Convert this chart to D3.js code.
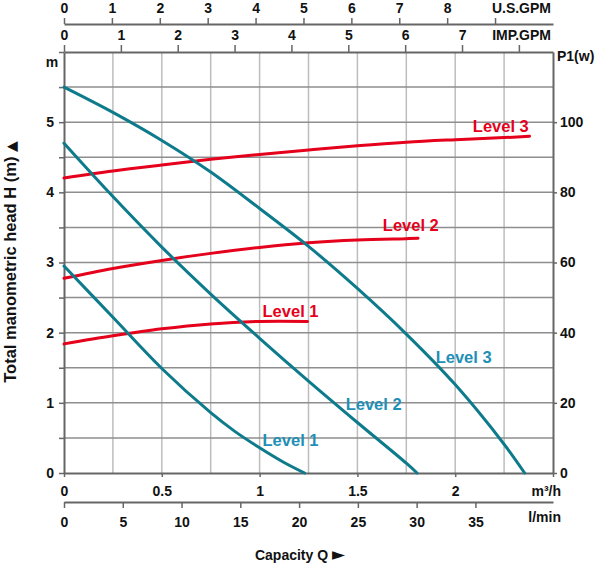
<!DOCTYPE html>
<html><head><meta charset="utf-8">
<script src="https://cdn.jsdelivr.net/npm/d3@7/dist/d3.min.js"></script>
<style>
body{margin:0;background:#fff}
svg{display:block}
text{font-family:"Liberation Sans",Arial,sans-serif;font-weight:bold}
</style>
</head><body>
<svg id="c" width="600" height="564"></svg>
<script>
// ---------- data ----------
const headQ1 = [0, 0.25, 0.5, 0.75, 0.875, 1.0, 1.125, 1.23];
const head1  = [2.95, 2.22, 1.49, 0.86, 0.59, 0.36, 0.15, 0];
const headQ2 = [0, 0.25, 0.5, 0.75, 1.0, 1.25, 1.5, 1.75, 1.805];
const head2  = [4.7, 3.94, 3.22, 2.55, 1.92, 1.31, 0.72, 0.14, 0];
const headQ3 = [0, 0.25, 0.5, 0.75, 1.0, 1.25, 1.5, 1.75, 2.0, 2.25, 2.355];
const head3  = [5.5, 5.14, 4.74, 4.29, 3.77, 3.23, 2.63, 1.98, 1.26, 0.41, 0];

const powerQ1 = [0, 0.25, 0.5, 0.75, 1.0, 1.245];
const power1  = [36.8, 39.1, 41.1, 42.5, 43.2, 43.2];
const powerQ2 = [0, 0.25, 0.5, 0.75, 1.0, 1.25, 1.5, 1.75, 1.81];
const power2  = [55.5, 58.3, 60.6, 62.6, 64.3, 65.6, 66.4, 66.8, 66.9];
const powerQ3 = [0, 0.25, 0.5, 0.75, 1.0, 1.25, 1.5, 1.75, 2.0, 2.25, 2.38];
const power3  = [84.1, 86.1, 87.8, 89.4, 90.8, 92.1, 93.3, 94.3, 95.0, 95.6, 96.0];

const levelNames = ["Level 1", "Level 2", "Level 3"];

const m3hTicks    = [0, 0.5, 1, 1.5, 2];
const lminTicks   = [0, 5, 10, 15, 20, 25, 30, 35];
const usGpmTicks  = [0, 1, 2, 3, 4, 5, 6, 7, 8];
const impGpmTicks = [0, 1, 2, 3, 4, 5, 6, 7];
const headTicks   = [0, 1, 2, 3, 4, 5];
const powerTicks  = [0, 20, 40, 60, 80, 100];

// ---------- layout ----------
const L = 64, R = 553, T = 52, B = 473;
const RED = "#e5001c", TEAL = "#0d7b8b", TEAL_TXT = "#1e8fb6";
const svg = d3.select("#c");

const x = d3.scaleLinear().domain([0, 2.5]).range([L, R]);
const xL = d3.scaleLinear().domain([0, 41.6]).range([L, R]);
const xUS = d3.scaleLinear().domain([0, 10.21]).range([L, R]);
const xIMP = d3.scaleLinear().domain([0, 8.6]).range([L, R]);
const y = d3.scaleLinear().domain([0, 6]).range([B, T]);
const yW = d3.scaleLinear().domain([0, 120]).range([B, T]);

// grid
const g = svg.append("g");
g.selectAll("line.v").data(d3.range(0.25, 2.5, 0.25)).join("line")
  .attr("x1", d => x(d)).attr("x2", d => x(d)).attr("y1", T).attr("y2", B)
  .attr("stroke", "#bdbdbd").attr("stroke-width", 1.5);
g.selectAll("line.h").data(d3.range(0.5, 6, 0.5)).join("line")
  .attr("x1", L).attr("x2", R).attr("y1", d => y(d)).attr("y2", d => y(d))
  .attr("stroke", "#8e8e8e").attr("stroke-width", 1.5);

function styleAxis(sel) {
  sel.select(".domain").attr("stroke", "#666").attr("stroke-width", 2);
  sel.selectAll(".tick line").attr("stroke", "#666").attr("stroke-width", 1.5);
  sel.selectAll("text").attr("font-size", 14).attr("fill", "#111")
    .attr("font-family", '"Liberation Sans",Arial,sans-serif').attr("font-weight", "bold");
}

// left axis (head)
svg.append("g").attr("transform", `translate(${L},0)`)
  .call(d3.axisLeft(y).tickValues(d3.range(0, 6.01, 0.5)).tickSize(5).tickSizeOuter(0).tickPadding(5)
    .tickFormat(d => headTicks.includes(d) ? d : ""))
  .call(styleAxis);

// right axis (power)
svg.append("g").attr("transform", `translate(${R},0)`)
  .call(d3.axisRight(yW).tickValues(powerTicks).tickSize(4).tickSizeOuter(0).tickPadding(3))
  .call(styleAxis);

// bottom m3/h axis
svg.append("g").attr("transform", `translate(0,${B})`)
  .call(d3.axisBottom(x).tickValues([...m3hTicks, 2.5]).tickSize(4).tickSizeOuter(0).tickPadding(9)
    .tickFormat(d => m3hTicks.includes(d) ? d : ""))
  .call(styleAxis);

// l/min axis
svg.append("g").attr("transform", `translate(0,502)`)
  .call(d3.axisBottom(xL).tickValues(lminTicks).tickSize(6).tickSizeOuter(0).tickPadding(9))
  .call(styleAxis);

// US GPM axis
svg.append("g").attr("transform", `translate(0,24)`)
  .call(d3.axisTop(xUS).tickValues([...usGpmTicks, 9]).tickSize(6).tickSizeOuter(0).tickPadding(5)
    .tickFormat(d => usGpmTicks.includes(d) ? d : ""))
  .call(styleAxis);

// IMP GPM axis (plot top)
svg.append("g").attr("transform", `translate(0,${T})`)
  .call(d3.axisTop(xIMP).tickValues([...impGpmTicks, 8]).tickSize(7).tickSizeOuter(0).tickPadding(5)
    .tickFormat(d => impGpmTicks.includes(d) ? d : ""))
  .call(styleAxis);

// unit labels
function txt(t, xx, yy, anchor, size, fill) {
  return svg.append("text").attr("x", xx).attr("y", yy).attr("text-anchor", anchor || "start")
    .attr("font-size", size || 14).attr("fill", fill || "#111").text(t);
}
txt("U.S.GPM", 551, 13, "end");
txt("IMP.GPM", 551, 40, "end");
txt("P1(w)", 557, 61, "start");
txt("m", 52, 67, "middle");
txt("m³/h", 561, 496, "end");
txt("l/min", 561, 522, "end");
const cap = svg.append("text").attr("x", 300).attr("y", 560).attr("text-anchor", "middle")
  .attr("font-size", 14).attr("fill", "#111");
cap.append("tspan").text("Capacity Q ");
cap.append("tspan").attr("font-family", '"DejaVu Sans",sans-serif').attr("font-size", 17).text("►");
const yt = svg.append("text").attr("transform", "translate(16,262) rotate(-90)").attr("text-anchor", "middle")
  .attr("font-size", 16.5).attr("fill", "#111");
yt.append("tspan").text("Total manometric head H (m) ");
yt.append("tspan").attr("font-family", '"DejaVu Sans",sans-serif').attr("font-size", 14).text("▲");

// curves
const lineH = d3.line().x(d => x(d[0])).y(d => y(d[1])).curve(d3.curveCatmullRom.alpha(0.5));
const lineW = d3.line().x(d => x(d[0])).y(d => yW(d[1])).curve(d3.curveCatmullRom.alpha(0.5));
const heads = [d3.zip(headQ1, head1), d3.zip(headQ2, head2), d3.zip(headQ3, head3)];
const powers = [d3.zip(powerQ1, power1), d3.zip(powerQ2, power2), d3.zip(powerQ3, power3)];

svg.append("g").selectAll("path").data(powers).join("path")
  .attr("d", lineW).attr("fill", "none").attr("stroke", RED).attr("stroke-width", 3).attr("stroke-linecap", "round");
svg.append("g").selectAll("path").data(heads).join("path")
  .attr("d", lineH).attr("fill", "none").attr("stroke", TEAL).attr("stroke-width", 3).attr("stroke-linecap", "round");

// labels (anchor positions in chart units: m3/h, m)
const redLabelPos = [[1.015, 2.22], [1.63, 3.45], [2.09, 4.86]];
const blueLabelPos = [[1.015, 0.385], [1.44, 0.90], [1.90, 1.57]];
levelNames.forEach((n, i) => {
  txt(n, x(redLabelPos[i][0]), y(redLabelPos[i][1]), "start", 16.5, RED);
  txt(n, x(blueLabelPos[i][0]), y(blueLabelPos[i][1]), "start", 16.5, TEAL_TXT);
});
</script>
</body></html>
